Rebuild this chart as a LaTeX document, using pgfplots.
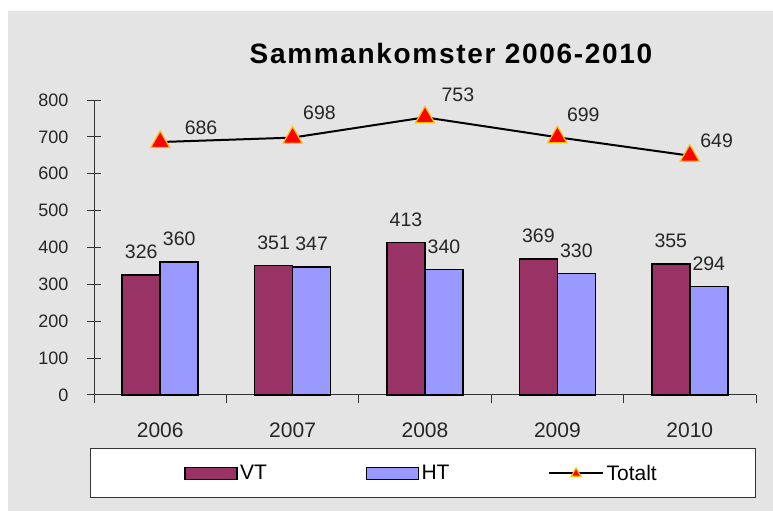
\documentclass[border=0pt]{standalone}
\usepackage{fontspec}
\setmainfont{Liberation Sans}
\usepackage{pgfplots}
\pgfplotsset{compat=1.18}
\definecolor{vt}{HTML}{993366}
\definecolor{ht}{HTML}{9999FF}
\definecolor{bg}{HTML}{E4E4E4}
\definecolor{mkedge}{HTML}{FFC000}
\pgfplotsset{
  barlegend/.style={legend image code/.code={\draw[##1] (0pt,-6pt) rectangle (52pt,6pt);}},
  linelegend/.style={legend image code/.code={\draw[mark repeat=2,mark phase=2,##1,mark size=5.5pt] plot coordinates {(0pt,0pt) (27pt,0pt) (54pt,0pt)};}},
}
\begin{document}
\begin{tikzpicture}[x=1pt,y=1pt]
\fill[white] (0,0) rectangle (773,511);
\useasboundingbox (0,0) rectangle (773,511);
\fill[bg] (8,0) rectangle (773,500);
\node[font=\fontsize{28}{32}\selectfont\bfseries\addfontfeatures{LetterSpace=6}] at (451,458) {Sammankomster 2006-2010};
\draw[fill=white, draw=black!80, line width=1pt] (90,14) rectangle (755,62);
\begin{axis}[at={(94pt,116pt)}, anchor=south west, scale only axis,
  width=662pt, height=295pt,
  xmin=-0.5, xmax=4.5, ymin=0, ymax=800, clip=false,
  axis x line*=bottom, axis y line*=left,
  axis line style={black!80, line width=1pt},
  tick align=center, major tick length=14pt,
  tick style={black!80, line width=1pt},
  ytick={0,100,...,800},
  xtick={0,...,4}, xticklabels={2006,2007,2008,2009,2010},
  xtick style={draw=none},
  extra x ticks={-0.5,0.5,1.5,2.5,3.5,4.5}, extra x tick labels={},
  extra x tick style={xtick style={draw=black!80, line width=1pt}, tick align=outside, major tick length=8pt},
  yticklabel style={font=\fontsize{18}{20}\selectfont, xshift=-15pt, text=black!85},
  xticklabel style={font=\fontsize{21}{24}\selectfont, yshift=-17pt, text=black!85},
  /pgf/number format/assume math mode=true,
  legend columns=3,
  legend style={at={(0.136,-0.266)}, anchor=west, draw=none, fill=none, inner sep=0pt,
    font=\fontsize{21}{24}\selectfont,
    nodes={inner sep=2.5pt},
    /tikz/every even column/.append style={column sep=96pt}},
]
\addplot[ybar, bar width=38pt, bar shift=-19pt, fill=vt, draw=black, line width=1.5pt,
  nodes near coords, nodes near coords style={font=\fontsize{19.5}{22}\selectfont, xshift=-19pt, yshift=12pt, text=black!85},
  barlegend]
  coordinates {(0,326) (1,351) (2,413) (3,369) (4,355)};
\addlegendentry{VT}
\addplot[ybar, bar width=38pt, bar shift=19pt, fill=ht, draw=black, line width=1.5pt,
  nodes near coords, nodes near coords style={font=\fontsize{19.5}{22}\selectfont, xshift=19pt, yshift=12pt, text=black!85},
  barlegend]
  coordinates {(0,360) (1,347) (2,340) (3,330) (4,294)};
\addlegendentry{HT}
\addplot[black, line width=2pt, mark=triangle*, mark size=11pt,
  mark options={fill=red, draw=mkedge, line width=1.2pt},
  visualization depends on={\thisrow{dx} \as \dx},
  visualization depends on={\thisrow{dy} \as \dy},
  nodes near coords,
  nodes near coords style={font=\fontsize{19.5}{22}\selectfont, anchor=south west, inner sep=0pt, xshift=\dx pt, yshift=\dy pt, text=black!85},
  linelegend]
  table {
x y dx dy
0 686 24 7
1 698 10 17
2 753 16 15
3 699 9 15
4 649 10 7
};
\addlegendentry{Totalt}
\end{axis}
\end{tikzpicture}
\end{document}
